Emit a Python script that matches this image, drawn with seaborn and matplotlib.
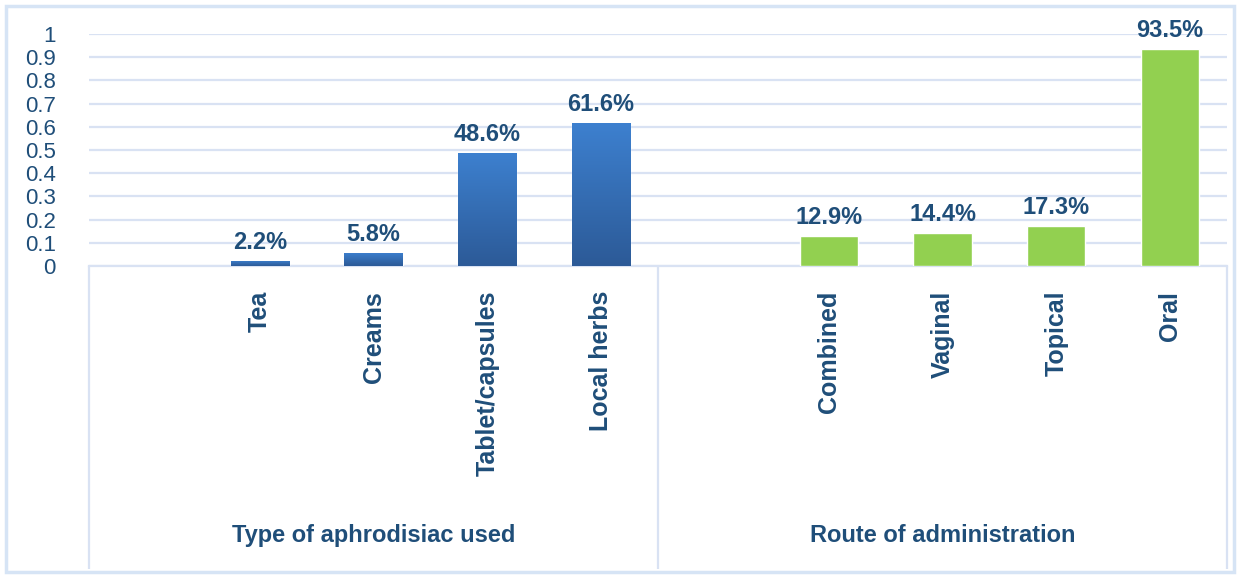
import numpy as np
import pandas as pd
import matplotlib
matplotlib.use("Agg")
import matplotlib.pyplot as plt
from matplotlib.patches import Rectangle
import seaborn as sns

# ---- data ----
slot_order = ["_gap1", "Tea", "Creams", "Tablet/capsules", "Local herbs",
              "_gap2", "Combined", "Vaginal", "Topical", "Oral"]
type_categories = ["Tea", "Creams", "Tablet/capsules", "Local herbs"]
type_values = [0.022, 0.058, 0.486, 0.616]
route_categories = ["Combined", "Vaginal", "Topical", "Oral"]
route_values = [0.129, 0.144, 0.173, 0.935]
group_labels = ["Type of aphrodisiac used", "Route of administration"]
y_ticks = [0, 0.1, 0.2, 0.3, 0.4, 0.5, 0.6, 0.7, 0.8, 0.9, 1]
y_tick_labels = ["0", "0.1", "0.2", "0.3", "0.4", "0.5", "0.6", "0.7", "0.8", "0.9", "1"]

df = pd.DataFrame({
    "category": type_categories + route_categories,
    "value": type_values + route_values,
    "group": [group_labels[0]] * 4 + [group_labels[1]] * 4,
})

sns.set_theme(style="white")
FONT = ["Liberation Sans Narrow", "Liberation Sans", "DejaVu Sans"]
plt.rcParams["font.family"] = FONT

TEXT = "#1F4E79"
GRID = "#D9E2F3"
BLUE_TOP = "#3D80CF"
BLUE_BOT = "#2C5A97"
GREEN = "#92D050"

fig = plt.figure(figsize=(12.4, 5.76), dpi=100)
ax = fig.add_axes([89 / 1240, 1 - 266 / 576, (1227 - 89) / 1240, (266 - 34) / 576])

sns.barplot(data=df, x="category", y="value", hue="group", order=slot_order,
            hue_order=group_labels,
            palette={group_labels[0]: BLUE_TOP, group_labels[1]: GREEN},
            saturation=1, dodge=False, width=0.51, legend=False, ax=ax, zorder=3)

ax.set_ylim(0, 1)
ax.set_xlim(-0.5, 9.5)
ax.set_yticks(y_ticks)
ax.set_yticklabels(y_tick_labels)
ax.yaxis.grid(True, color=GRID, linewidth=1.6, zorder=0)
ax.set_axisbelow(True)
for s in ["top", "right", "left"]:
    ax.spines[s].set_visible(False)
ax.spines["bottom"].set_color(GRID)
ax.spines["bottom"].set_linewidth(1.6)
ax.set_xlabel("")
ax.set_ylabel("")
ax.tick_params(axis="y", length=0, pad=24, labelsize=16, labelcolor=TEXT)

# x tick labels (rotated, blanks for gap slots)
labels = ["" if c.startswith("_") else c for c in slot_order]
ax.set_xticks(range(len(slot_order)))
ax.set_xticklabels(labels, rotation=90, fontsize=18, fontweight="bold", color=TEXT)
ax.tick_params(axis="x", which="major", length=0, pad=18)

# category separators as long minor ticks
ax.set_xticks([-0.5, 4.5, 9.5], minor=True)
ax.tick_params(axis="x", which="minor", bottom=True, length=218, width=1.6,
               color=GRID, direction="out")

# gradient on blue bars, value labels
grad = np.linspace(0, 1, 256).reshape(-1, 1)
cmap = matplotlib.colors.LinearSegmentedColormap.from_list("b", [BLUE_BOT, BLUE_TOP])
for gi, cont in enumerate(ax.containers):
    for p in cont.patches:
        h = p.get_height()
        if not np.isfinite(h) or h <= 0:
            continue
        x0, w = p.get_x(), p.get_width()
        if gi == 0:
            im = ax.imshow(grad, extent=[x0, x0 + w, 0, h], origin="lower", cmap=cmap,
                           aspect="auto", zorder=3.5)
            im.set_clip_path(p)
        ax.text(x0 + w / 2, h + 0.03, f"{h * 100:.1f}%", ha="center", va="bottom",
                fontsize=17, fontweight="bold", color=TEXT, clip_on=False, zorder=5)
ax.set_xlim(-0.5, 9.5)
ax.set_ylim(0, 1)

# group labels
ax.text(2.0, -1.16, group_labels[0], transform=ax.get_xaxis_transform(),
        ha="center", va="center", fontsize=17, fontweight="bold", color=TEXT)
ax.text(7.0, -1.16, group_labels[1], transform=ax.get_xaxis_transform(),
        ha="center", va="center", fontsize=17, fontweight="bold", color=TEXT)

# outer chart border
fig.patches.append(Rectangle((6 / 1240, 4 / 576), 1228 / 1240, 566 / 576,
                             transform=fig.transFigure, fill=False,
                             edgecolor="#D6E4F5", linewidth=2.5))

fig.savefig("out.png", dpi=100, facecolor="white")
